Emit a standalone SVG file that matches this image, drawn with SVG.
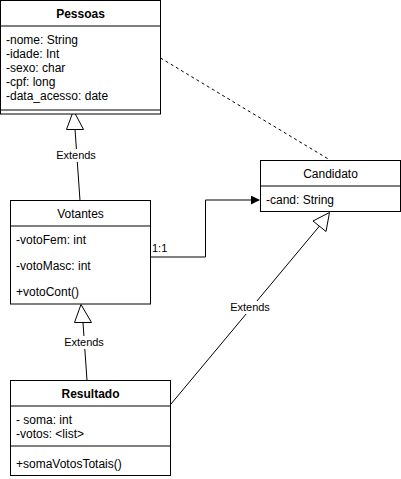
<svg xmlns="http://www.w3.org/2000/svg" width="401" height="479" viewBox="0 0 401 479">
<defs>
<style>
.box{fill:#fff;stroke:#000;stroke-width:1}
.ln{stroke:#000;stroke-width:1;fill:none}
.t{font-family:"Liberation Sans",Arial,sans-serif;font-size:12px;fill:#000}
.b{font-weight:bold;text-anchor:middle}
.c{text-anchor:middle}
.lbl{font-family:"Liberation Sans",Arial,sans-serif;font-size:11px;fill:#000;text-anchor:middle}
</style>
<marker id="fill" viewBox="0 0 10 10" refX="9" refY="5" markerWidth="9" markerHeight="9" markerUnits="userSpaceOnUse" orient="auto">
<path d="M0,0 L10,5 L0,10 Z" fill="#000"/>
</marker>
</defs>
<rect width="401" height="479" fill="#fff"/>
<g id="connectors">
<path class="ln" d="M160.5,58 L330,160" stroke-dasharray="3,3"/>
<path class="ln" d="M80,200.5 L75,129"/>
<path class="ln" d="M66.5,129.5 L83.5,129.5 L73.5,110.5 Z" fill="#fff"/>
<rect x="54" y="149" width="42" height="13" fill="#fff"/>
<text class="lbl" x="76" y="159">Extends</text>
<path class="ln" d="M87,380.5 L83,322.5"/>
<path class="ln" d="M74.5,322.5 L91.5,322.5 L81,304.5 Z" fill="#fff"/>
<rect x="63" y="336" width="42" height="13" fill="#fff"/>
<text class="lbl" x="84" y="346">Extends</text>
<path class="ln" d="M150.5,257 L205.5,257 L205.5,200 L259,200" marker-end="url(#fill)"/>
<text class="t" x="152" y="252" style="font-size:11px">1:1</text>
<path class="ln" d="M171,404 L319.5,226"/>
<path class="ln" d="M313,221 L326,231.5 L329.5,212.5 Z" fill="#fff"/>
<rect x="229" y="301" width="42" height="13" fill="#fff"/>
<text class="lbl" x="250" y="311">Extends</text>
</g>
<g id="pessoas">
<rect class="box" x="0.5" y="0.5" width="160" height="113.5"/>
<path class="ln" d="M0.5,26 L160.5,26 M0.5,110 L160.5,110"/>
<text class="t b" x="80.5" y="18">Pessoas</text>
<text class="t" x="6" y="44">-nome: String</text>
<text class="t" x="6" y="58">-idade: Int</text>
<text class="t" x="6" y="72">-sexo: char</text>
<text class="t" x="6" y="86">-cpf: long</text>
<text class="t" x="6" y="100">-data_acesso: date</text>
</g>
<g id="votantes">
<rect class="box" x="10.5" y="200.5" width="140" height="103.5"/>
<path class="ln" d="M10.5,226 L150.5,226"/>
<text class="t c" x="80.5" y="218">Votantes</text>
<text class="t" x="16" y="244">-votoFem: int</text>
<text class="t" x="16" y="270">-votoMasc: int</text>
<text class="t" x="16" y="296">+votoCont()</text>
</g>
<g id="candidato">
<rect class="box" x="260.5" y="160.5" width="140" height="51"/>
<path class="ln" d="M260.5,186 L400.5,186"/>
<text class="t c" x="330.5" y="178">Candidato</text>
<text class="t" x="266" y="204">-cand: String</text>
</g>
<g id="resultado">
<rect class="box" x="10.5" y="380.5" width="160" height="95"/>
<path class="ln" d="M10.5,406 L170.5,406 M10.5,446 L170.5,446"/>
<text class="t b" x="90.5" y="398">Resultado</text>
<text class="t" x="16" y="424">- soma: int</text>
<text class="t" x="16" y="438">-votos: &lt;list&gt;</text>
<text class="t" x="16" y="468">+somaVotosTotais()</text>
</g>
</svg>
